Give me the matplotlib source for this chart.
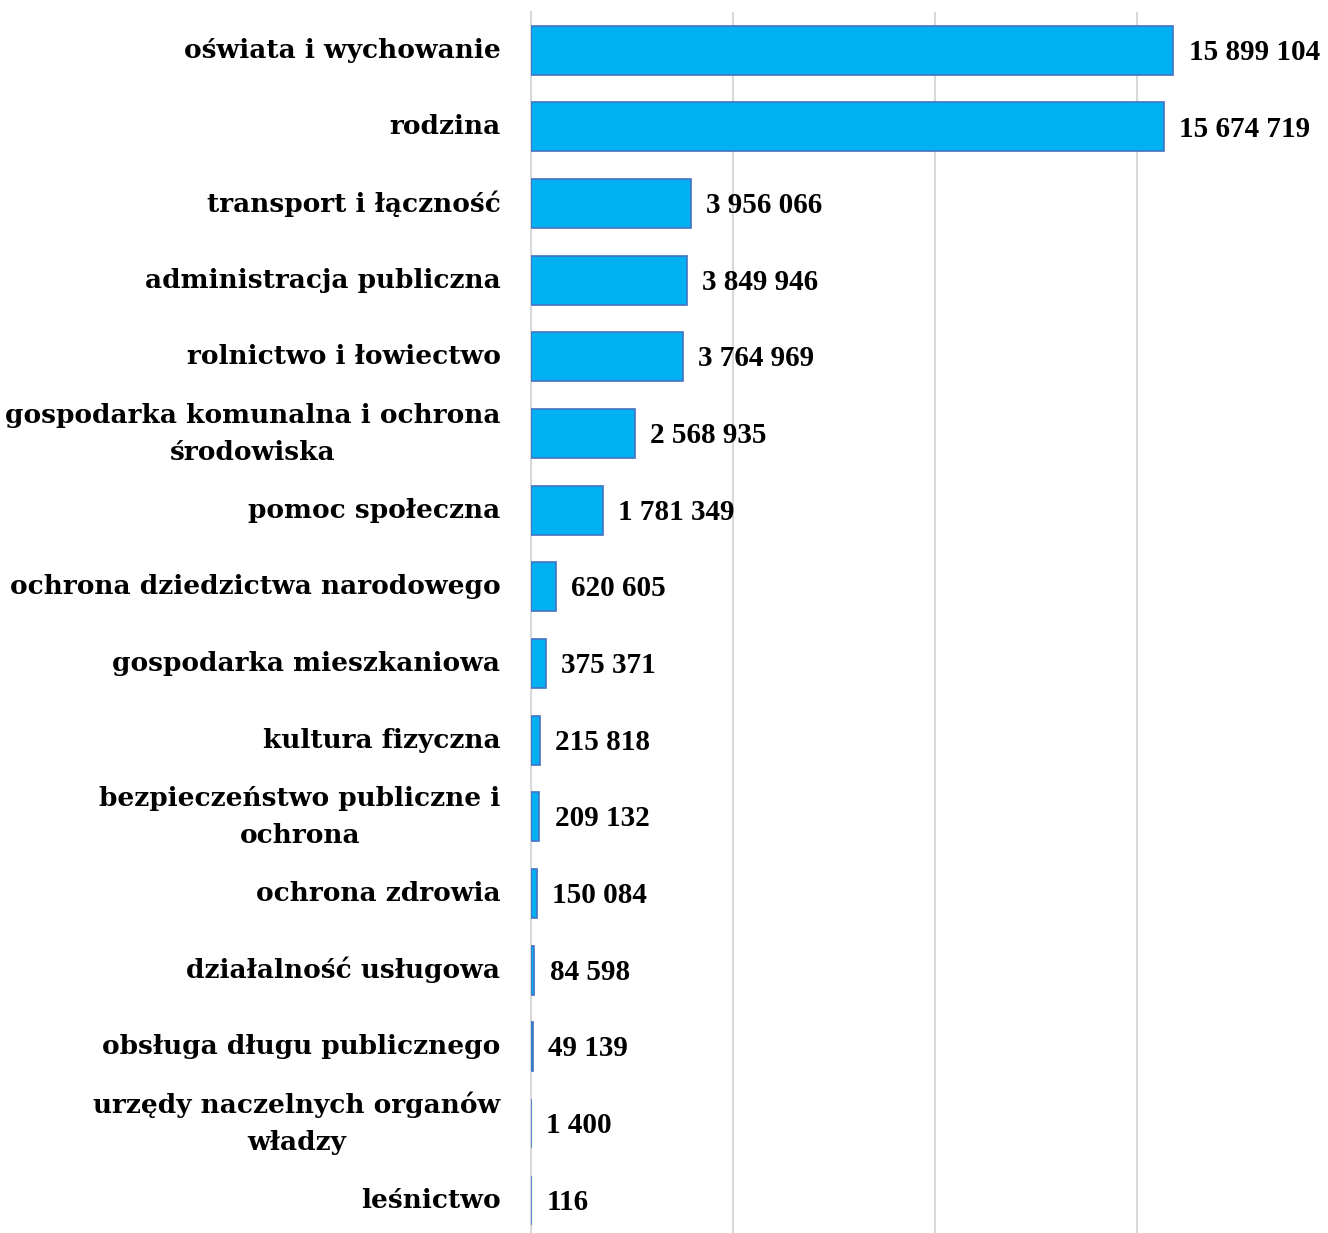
import matplotlib.pyplot as plt
from matplotlib.ticker import MultipleLocator

categories = [
    "oświata i wychowanie",
    "rodzina",
    "transport i łączność",
    "administracja publiczna",
    "rolnictwo i łowiectwo",
    "gospodarka komunalna i ochrona\nśrodowiska",
    "pomoc społeczna",
    "ochrona dziedzictwa narodowego",
    "gospodarka mieszkaniowa",
    "kultura fizyczna",
    "bezpieczeństwo publiczne i\nochrona",
    "ochrona zdrowia",
    "działalność usługowa",
    "obsługa długu publicznego",
    "urzędy naczelnych organów\nwładzy",
    "leśnictwo",
]
values = [15899104, 15674719, 3956066, 3849946, 3764969, 2568935, 1781349,
          620605, 375371, 215818, 209132, 150084, 84598, 49139, 1400, 116]

plt.rcParams['font.family'] = ['Liberation Serif', 'DejaVu Serif']
plt.rcParams['font.weight'] = 'bold'

fig = plt.figure(figsize=(13.28, 12.33), dpi=100)
ax = fig.add_axes([531 / 1328, 0.0, 1 - 531 / 1328, 1 - 12 / 1233])

pos = list(range(len(categories)))
ax.barh(pos, values, height=0.64, color='#00B0F0', edgecolor='#4472C4',
        linewidth=1.2, zorder=3)

ax.set_xlim(0, 19.73e6)
ax.set_ylim(15.43, -0.5)
ax.xaxis.set_major_locator(MultipleLocator(5e6))
ax.grid(axis='x', color='#D9D9D9', linewidth=1.5, zorder=0)
ax.tick_params(axis='x', length=0, labelbottom=False)
ax.tick_params(axis='y', length=0, pad=22)
ax.set_yticks(pos)
ax.set_yticklabels(categories, fontweight='bold', fontsize=19,
                   family=['DejaVu Serif'], linespacing=1.6, va='center')
for lab in ax.get_yticklabels():
    lab.set_multialignment('center')

for s in ['top', 'right', 'bottom']:
    ax.spines[s].set_visible(False)
ax.spines['left'].set_color('#D9D9D9')
ax.spines['left'].set_linewidth(1.5)

for p, v in zip(pos, values):
    txt = f"{v:,}".replace(",", " ")
    ax.annotate(txt, xy=(v, p), xytext=(11, -1.5), textcoords='offset points',
                ha='left', va='center', fontsize=21, fontweight='bold',
                zorder=4)

fig.savefig('out.png', dpi=100)
